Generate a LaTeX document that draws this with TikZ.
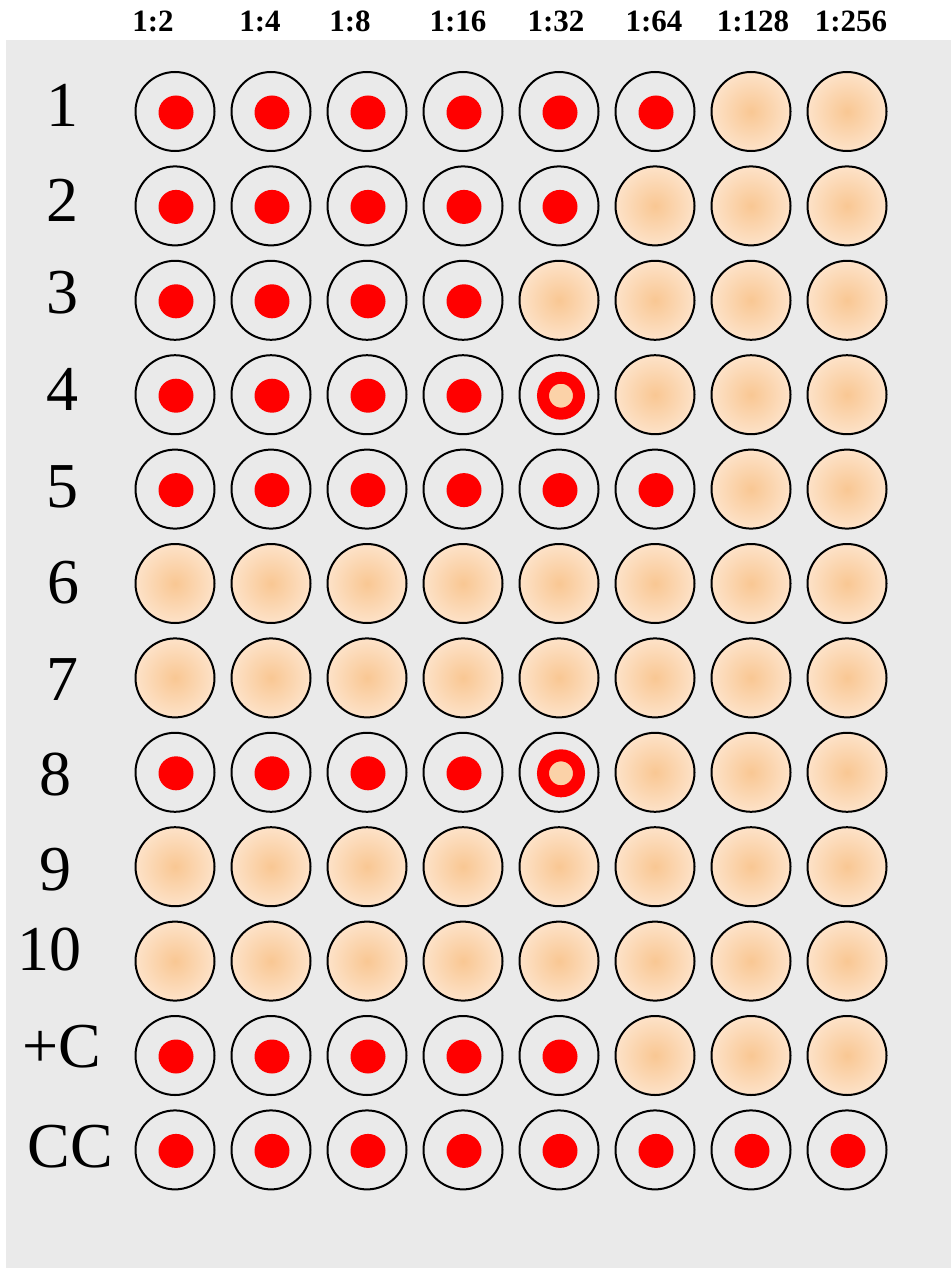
\documentclass[tikz,border=0pt]{standalone}
\usepackage{fontspec}
\setmainfont{Liberation Serif}
\usetikzlibrary{shapes.geometric}
\definecolor{plategray}{RGB}{234,234,234}
\definecolor{beigein}{RGB}{249,199,147}
\definecolor{beigeout}{RGB}{253,226,200}
\definecolor{beigeeye}{RGB}{251,210,168}
\definecolor{dotred}{RGB}{255,0,0}

\begin{document}
\begin{tikzpicture}[
  x=1pt, y=-1pt,
  well/.style={circle, draw=black, line width=2pt, minimum size=79pt,
    inner sep=0pt},
  negwell/.style={well, inner color=beigein, outer color=beigeout},
  button/.style={ellipse, fill=dotred, minimum width=35pt,
    minimum height=34pt, inner sep=0pt},
  halo/.style={circle, fill=beigeeye, draw=dotred, line width=12pt,
    minimum size=36pt, inner sep=0pt},
  dilution/.style={font=\fontsize{31}{31}\selectfont\bfseries, anchor=base},
  rowlabel/.style={font=\fontsize{64}{64}\selectfont, anchor=base},
]
  \useasboundingbox (0,0) rectangle (951,1268);
  % Plate
  \fill[plategray] (6,40) rectangle (951,1268);
  % Dilutions
  \foreach \t/\tx [count=\i] in {1:2/153, 1:4/260, 1:8/350, 1:16/458,
    1:32/556, 1:64/654, 1:128/753, 1:256/851}
    \node[dilution] (dil-\i) at (\tx,32) {\t};
  % Rows: label, label position, red buttons, halo after them
  \foreach \lab/\lx/\ly/\n/\h [count=\r] in {1/62/127/6/0, 2/62/221/5/0,
    3/62/313/4/0, 4/62/410/4/1, 5/62/507/6/0, 6/63/603/0/0,
    7/62/700/0/0, 8/55/795/4/1, 9/55/890/0/0, 10/49/970/0/0,
    +C/62/1067/5/0, CC/70/1167/8/0}
  {
    \node[rowlabel] (row-\r) at (\lx,\ly) {\lab};
    \foreach \c in {1,...,8} {
      \pgfmathsetmacro\wx{175+96*(\c-1)}
      \pgfmathsetmacro\wy{111.5+94.4*(\r-1)}
      \pgfmathtruncatemacro\kind{\c<\n+1 ? 0 : ((\h==1 && \c==\n+1) ? 1 : 2)}
      \ifcase\kind
        \node[well] (w-\r-\c) at (\wx,\wy) {};
        \node[button] (b-\r-\c) at ([shift={(1,1)}]w-\r-\c.center) {};
      \or
        \node[well] (w-\r-\c) at (\wx,\wy) {};
        \node[halo] (b-\r-\c) at ([shift={(2,1)}]w-\r-\c.center) {};
      \or
        \node[negwell] (w-\r-\c) at (\wx,\wy) {};
      \fi
    }
  }
\end{tikzpicture}
\end{document}
